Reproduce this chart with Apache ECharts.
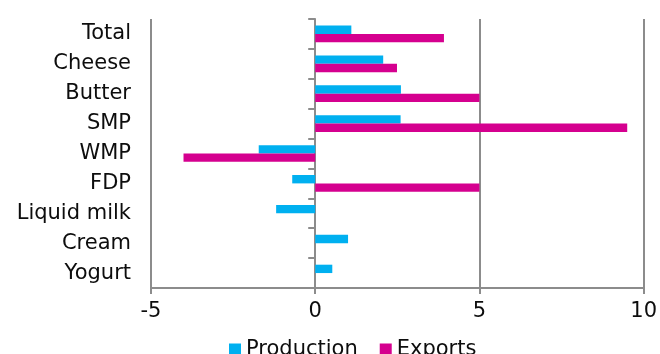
<!DOCTYPE html>
<html>
<head>
<meta charset="utf-8">
<script src="https://cdn.jsdelivr.net/npm/echarts@6/dist/echarts.min.js"></script>
<style>
  html, body { margin: 0; padding: 0; background: #fff; }
  #chart { width: 660px; height: 354px; }
</style>
</head>
<body>
<div id="chart"></div>
<script>
// categories, top to bottom
const categories = ['Total', 'Cheese', 'Butter', 'SMP', 'WMP', 'FDP', 'Liquid milk', 'Cream', 'Yogurt']
// % change
const production = [1.1, 2.07, 2.61, 2.6, -1.72, -0.7, -1.19, 1.0, 0.52]
const exports = [3.92, 2.49, 5.0, 9.5, -4.01, 5.0, 0, 0, 0]
const xTicks = { min: -5, max: 10, step: 5 }

const chart = echarts.init(document.getElementById('chart'))
const font = 'DejaVu Sans, Verdana, sans-serif'
const gray = '#8c8c8c'
const textColor = '#0d0d0d'

chart.setOption({
  animation: false,
  grid: { left: 151, right: 15, top: 19, bottom: 66 },
  legend: {
    top: 334,
    left: 224,
    icon: 'rect',
    itemWidth: 12,
    itemHeight: 12,
    itemGap: 22,
    textStyle: { fontFamily: font, fontSize: 21, color: textColor },
    data: ['Production', 'Exports']
  },
  xAxis: {
    type: 'value',
    min: xTicks.min,
    max: xTicks.max,
    interval: xTicks.step,
    axisLine: { show: true, onZero: false, lineStyle: { color: gray, width: 2 } },
    axisTick: { show: true, length: 6, lineStyle: { color: gray, width: 2 } },
    splitLine: { show: true, lineStyle: { color: gray, width: 2 } },
    axisLabel: { fontFamily: font, fontSize: 21, color: textColor, margin: 13 }
  },
  yAxis: [
    {
      // labels on the left
      type: 'category',
      inverse: true,
      data: categories,
      axisLine: { show: false },
      axisTick: { show: false },
      axisLabel: { fontFamily: font, fontSize: 21, color: textColor, margin: 20 }
    },
    {
      // zero line with ticks
      type: 'category',
      inverse: true,
      data: categories,
      position: 'left',
      axisLine: { show: true, onZero: true, onZeroAxisIndex: 0, lineStyle: { color: gray, width: 2 } },
      axisTick: { show: true, length: 7, lineStyle: { color: gray, width: 2 } },
      axisLabel: { show: false }
    }
  ],
  series: [
    {
      name: 'Production',
      type: 'bar',
      yAxisIndex: 0,
      data: production,
      itemStyle: { color: '#00b0f0' },
      barGap: '0%',
      barCategoryGap: '44%'
    },
    {
      name: 'Exports',
      type: 'bar',
      yAxisIndex: 0,
      data: exports,
      itemStyle: { color: '#d5008f' },
      barGap: '0%',
      barCategoryGap: '44%'
    }
  ]
})
</script>
</body>
</html>
